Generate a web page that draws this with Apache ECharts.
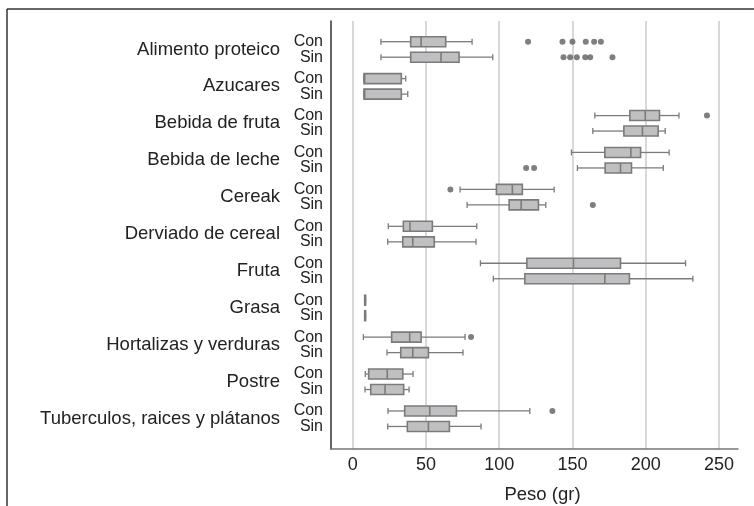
<!DOCTYPE html>
<html>
<head>
<meta charset="utf-8">
<script src="https://cdn.jsdelivr.net/npm/echarts@6/dist/echarts.min.js"></script>
<style>
  html, body { margin: 0; padding: 0; background: #fff; }
  #chart { width: 754px; height: 506px; }
</style>
</head>
<body>
<div id="chart"></div>
<script>
// categorias (de arriba a abajo)
var categories = ['Alimento proteico', 'Azucares', 'Bebida de fruta', 'Bebida de leche', 'Cereak',
  'Derviado de cereal', 'Fruta', 'Grasa', 'Hortalizas y verduras', 'Postre', 'Tuberculos, raices y plátanos'];
var groups = ['Con', 'Sin'];

// [min, Q1, mediana, Q3, max]
var conStats = [
  [19.3, 39.6, 46.7, 63.5, 81.5],
  [7.7, 7.7, 8.2, 33.2, 36.2],
  [165.3, 189.2, 199.7, 209.4, 222.7],
  [149.3, 172.1, 189.9, 196.5, 216.0],
  [73.3, 98.1, 109.0, 115.8, 137.5],
  [24.3, 34.6, 39.1, 54.4, 84.7],
  [87.2, 118.9, 150.7, 182.8, 227.2],
  [8.2, 8.2, 8.4, 8.8, 8.8],
  [7.3, 26.6, 38.9, 46.7, 76.7],
  [8.6, 10.9, 23.6, 34.2, 41.2],
  [24.1, 35.5, 52.6, 70.8, 120.9]
];
var sinStats = [
  [19.3, 39.6, 60.3, 72.6, 95.6],
  [7.7, 7.7, 8.2, 33.2, 37.6],
  [163.9, 185.1, 197.8, 208.5, 213.3],
  [153.4, 172.3, 182.8, 190.3, 212.0],
  [78.1, 106.8, 115.0, 126.8, 131.8],
  [23.9, 34.2, 41.0, 55.7, 84.2],
  [96.0, 117.5, 172.1, 188.9, 232.2],
  [8.2, 8.2, 8.4, 8.8, 8.8],
  [23.4, 32.8, 41.0, 51.7, 75.3],
  [8.4, 12.3, 22.1, 34.8, 38.5],
  [23.9, 37.3, 51.7, 66.0, 87.6]
];
// valores atipicos
var conOutliers = [
  [119.7, 143.2, 150.0, 159.1, 164.8, 169.4],
  [], [241.8], [], [66.7], [], [], [], [80.8], [], [136.3]
];
var sinOutliers = [
  [143.9, 148.4, 153.0, 158.7, 162.1, 177.3],
  [], [], [118.4, 123.8], [163.9], [], [], [], [], [], []
];
var xTicks = [0, 50, 100, 150, 200, 250];

var offset = 0.21; // separacion Con / Sin dentro de cada categoria

var boxData = [];
var outlierData = [];
var conPositions = [];
var sinPositions = [];
categories.forEach(function (c, i) {
  boxData.push([i - offset].concat(conStats[i]));
  boxData.push([i + offset].concat(sinStats[i]));
  conOutliers[i].forEach(function (v) { outlierData.push([v, i - offset]); });
  sinOutliers[i].forEach(function (v) { outlierData.push([v, i + offset]); });
  conPositions.push(i - offset);
  sinPositions.push(i + offset);
});

var txt = '#222';
var lineColor = '#7b7b7b';
var yMin = -0.77, yMax = 10.82;

function renderBox(params, api) {
  var pos = api.value(0);
  var y = api.coord([0, pos])[1];
  var xs = [1, 2, 3, 4, 5].map(function (d) { return api.coord([api.value(d), pos])[0]; });
  var h = 10, cap = 3;
  var ls = { stroke: lineColor, lineWidth: 1.3 };
  return {
    type: 'group',
    children: [
      { type: 'line', shape: { x1: xs[0], y1: y, x2: xs[1], y2: y }, style: ls },
      { type: 'line', shape: { x1: xs[3], y1: y, x2: xs[4], y2: y }, style: ls },
      { type: 'line', shape: { x1: xs[0], y1: y - cap, x2: xs[0], y2: y + cap }, style: ls },
      { type: 'line', shape: { x1: xs[4], y1: y - cap, x2: xs[4], y2: y + cap }, style: ls },
      { type: 'rect', shape: { x: xs[1], y: y - h / 2, width: xs[3] - xs[1], height: h },
        style: { fill: '#c0c0c2', stroke: lineColor, lineWidth: 1.6 } },
      { type: 'line', shape: { x1: xs[2], y1: y - h / 2, x2: xs[2], y2: y + h / 2 },
        style: { stroke: lineColor, lineWidth: 1.6 } }
    ]
  };
}

function subAxis(values, label) {
  return {
    type: 'value',
    inverse: true,
    position: 'left',
    min: yMin,
    max: yMax,
    axisLine: { show: false, onZero: false },
    axisTick: { show: false },
    splitLine: { show: false },
    axisLabel: {
      customValues: values,
      formatter: function () { return label; },
      fontSize: 16,
      color: txt,
      margin: 8,
      showMinLabel: true,
      showMaxLabel: true,
      hideOverlap: false
    }
  };
}

var chart = echarts.init(document.getElementById('chart'));
chart.setOption({
  animation: false,
  textStyle: { fontFamily: 'Liberation Sans, Arial, sans-serif' },
  grid: { left: 331, right: 16, top: 21, bottom: 57, outerBoundsMode: 'none' },
  graphic: [
    { type: 'line', silent: true, shape: { x1: 7, y1: 9, x2: 754, y2: 9 },
      style: { stroke: '#333', lineWidth: 1.5 } },
    { type: 'line', silent: true, shape: { x1: 7, y1: 9, x2: 7, y2: 506 },
      style: { stroke: '#333', lineWidth: 1.5 } }
  ],
  xAxis: {
    type: 'value',
    min: -14.8,
    max: 263,
    name: 'Peso (gr)',
    nameLocation: 'middle',
    nameGap: 36,
    nameTextStyle: { fontSize: 18.5, color: txt, padding: [0, 0, 0, 16] },
    axisLine: { show: true, onZero: false, lineStyle: { color: '#777', width: 1.5 } },
    axisTick: { show: false },
    axisLabel: {
      customValues: xTicks,
      fontSize: 18,
      color: txt,
      margin: 7
    },
    splitLine: {
      show: true,
      showMinLine: false,
      showMaxLine: false,
      lineStyle: { color: '#cbcbcb', width: 1.5 }
    }
  },
  yAxis: [
    {
      type: 'value',
      inverse: true,
      min: yMin,
      max: yMax,
      axisLine: { show: true, onZero: false, lineStyle: { color: '#333', width: 1.5 } },
      axisTick: { show: false },
      splitLine: { show: false },
      axisLabel: {
        customValues: categories.map(function (c, i) { return i; }),
        formatter: function (v) { return categories[Math.round(v)]; },
        fontSize: 18.5,
        color: txt,
        margin: 51,
        showMinLabel: true,
        showMaxLabel: true,
        hideOverlap: false
      }
    },
    subAxis(conPositions, groups[0]),
    subAxis(sinPositions, groups[1])
  ],
  series: [
    {
      type: 'custom',
      renderItem: renderBox,
      data: boxData,
      encode: { x: [1, 2, 3, 4, 5], y: 0 },
      xAxisIndex: 0,
      yAxisIndex: 0,
      silent: true
    },
    {
      type: 'scatter',
      data: outlierData,
      symbolSize: 6,
      itemStyle: { color: '#5f5f5f' },
      xAxisIndex: 0,
      yAxisIndex: 0,
      silent: true
    }
  ]
});
</script>
</body>
</html>
